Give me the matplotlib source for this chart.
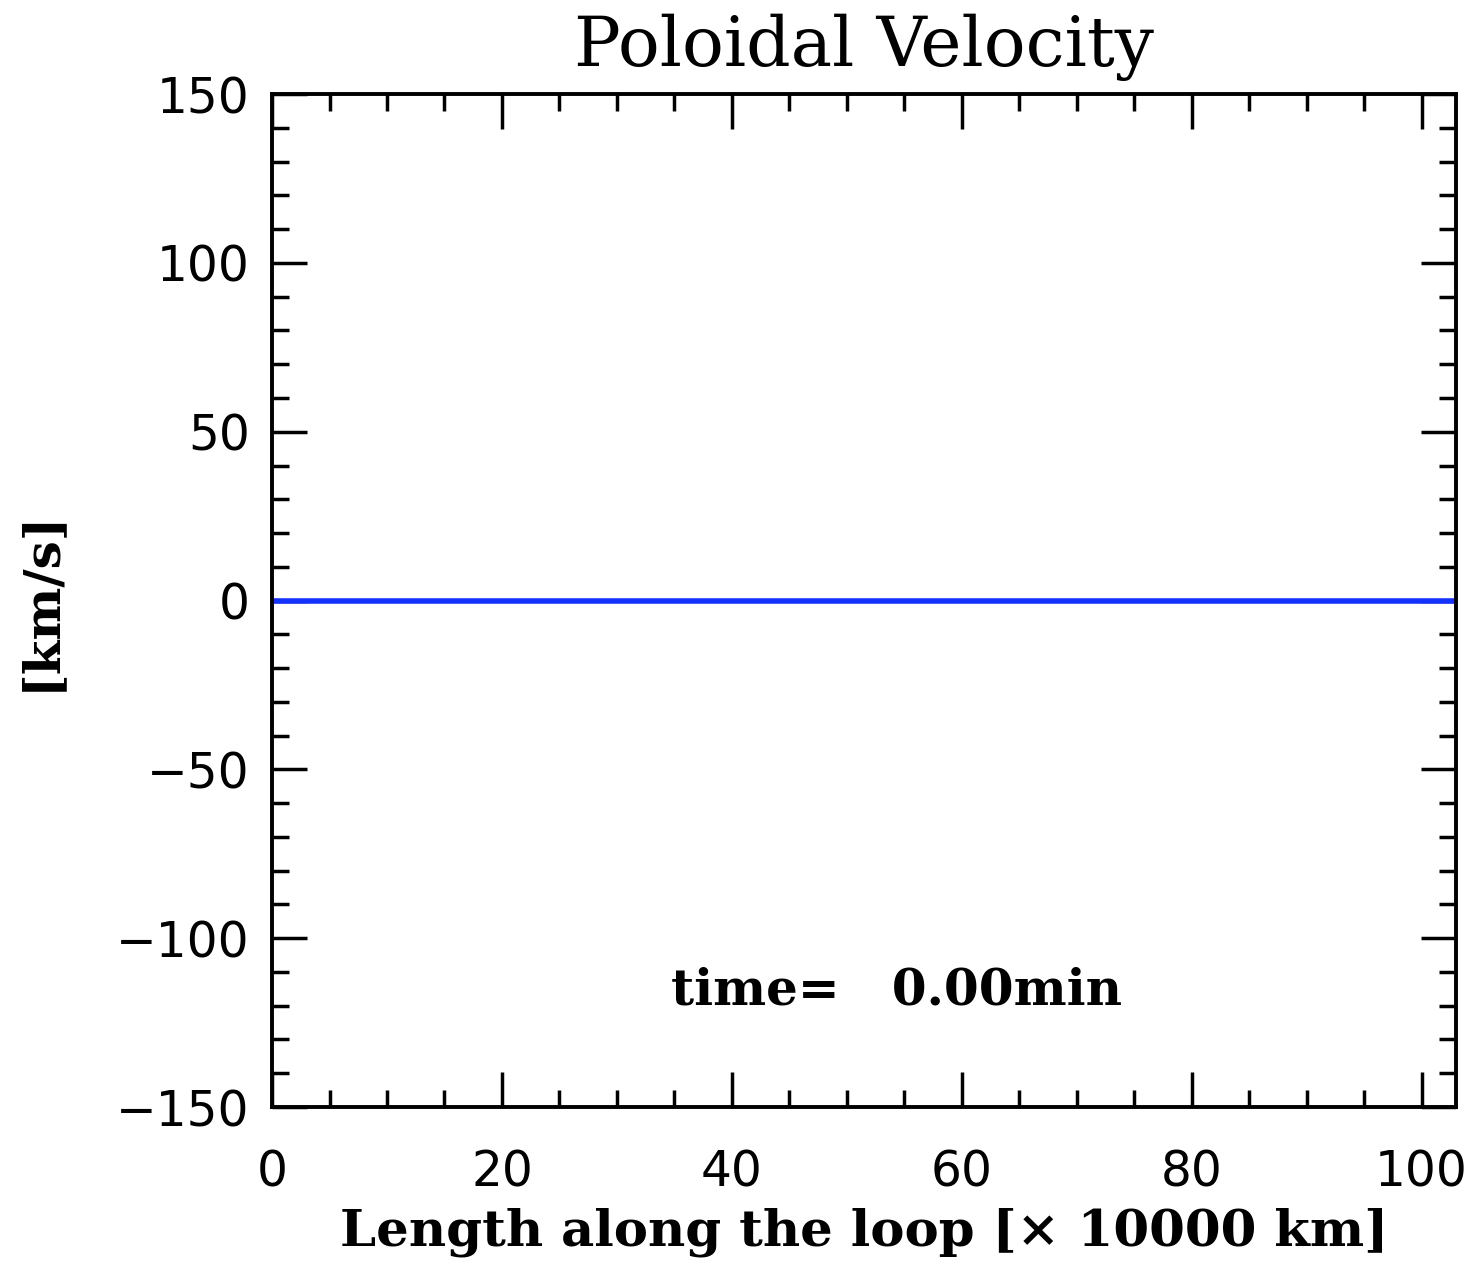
import matplotlib
matplotlib.use("Agg")
import matplotlib.pyplot as plt
from matplotlib.ticker import MultipleLocator

# Data
loop_length = [0.0, 103.0]      # x 10000 km
velocity = [0.0, 0.0]           # km/s
x_ticks = [0, 20, 40, 60, 80, 100]
y_ticks = [-150, -100, -50, 0, 50, 100, 150]
title = "Poloidal Velocity"
xlabel = "Length along the loop [\u00d7 10000 km]"
ylabel = "[km/s]"
annotation = "time=   0.00min"

fig = plt.figure(figsize=(14.73, 12.72), dpi=100)
ax = fig.add_axes([0.1847, 0.1297, 0.9885 - 0.1847, 0.926 - 0.1297])

ax.plot(loop_length, velocity, color="#1432ff", lw=4.0, solid_capstyle="butt")

ax.set_xlim(0, 103)
ax.set_ylim(-150, 150)
ax.set_xticks(x_ticks)
ax.set_yticks(y_ticks)
ax.xaxis.set_minor_locator(MultipleLocator(5))
ax.yaxis.set_minor_locator(MultipleLocator(10))
ax.tick_params(which="both", direction="in", top=True, right=True, width=2.5, color="black")
ax.tick_params(which="major", length=25)
ax.tick_params(which="minor", length=12)
ax.tick_params(axis="x", which="major", pad=30)
ax.tick_params(axis="y", which="major", pad=16)
for s in ax.spines.values():
    s.set_linewidth(2.8)

tick_font = dict(family="DejaVu Sans", size=35)
ax.set_xticklabels([str(t) for t in x_ticks], fontdict=tick_font)
ax.set_yticklabels([str(t).replace("-", "\u2212") for t in y_ticks], fontdict=tick_font)

ax.set_title(title, family="DejaVu Serif", fontsize=50, pad=20)
ax.set_xlabel(xlabel, family="DejaVu Serif", fontsize=37, fontweight="bold", labelpad=8)
ax.set_ylabel(ylabel, family="DejaVu Serif", fontsize=36, fontweight="bold")
ax.yaxis.set_label_coords(-0.175, 0.5)

ax.text(0.527, 0.115, annotation, transform=ax.transAxes, ha="center", va="center",
        family="DejaVu Serif", fontsize=36, fontweight="bold")

fig.savefig("out.png", dpi=100, facecolor="white")
